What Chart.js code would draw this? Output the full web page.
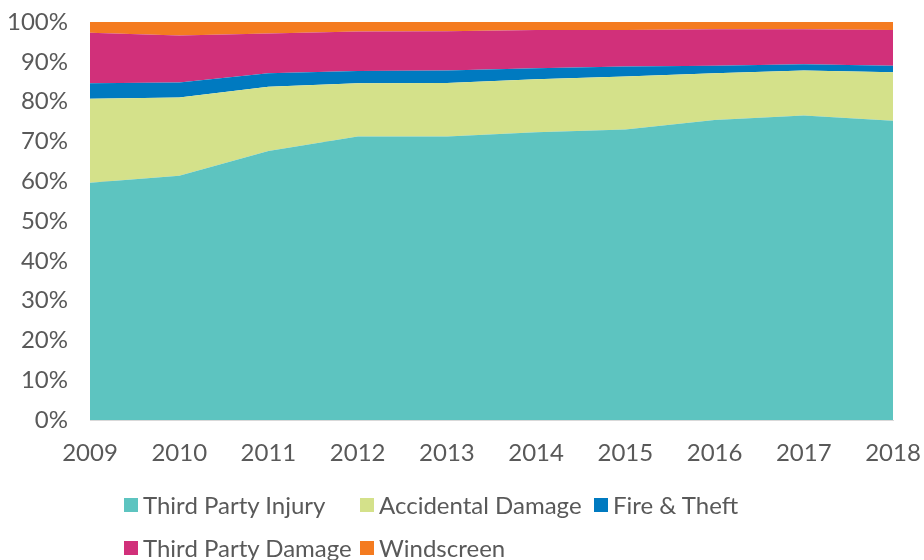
<!DOCTYPE html>
<html>
<head>
<meta charset="utf-8">
<script src="https://cdn.jsdelivr.net/npm/chart.js@4.4.1/dist/chart.umd.min.js"></script>
<style>
  body { margin: 0; background: #fff; font-family: Lato, sans-serif; }
  #wrap { position: relative; width: 924px; height: 560px; overflow: hidden; }
  #legend {
    position: absolute; left: 124px; top: 492px;
    display: grid; grid-template-columns: 236px 234px auto;
    row-gap: 17px; color: #595959; font-size: 24px; line-height: 26px;
  }
  #legend .item { display: flex; align-items: center; white-space: nowrap; }
  #legend i { display: inline-block; width: 14px; height: 14px; margin-right: 5px; }
</style>
</head>
<body>
<div id="wrap">
  <canvas id="myChart" width="924" height="560"></canvas>
  <div id="legend"></div>
</div>
<script>
// data (% share per year)
const years = ['2009','2010','2011','2012','2013','2014','2015','2016','2017','2018'];
const thirdPartyInjury = [59.6, 61.4, 67.6, 71.2, 71.2, 72.3, 73.0, 75.4, 76.5, 75.2];
const accidentalDamage = [21.1, 19.6, 16.1, 13.4, 13.5, 13.3, 13.3, 11.7, 11.3, 12.2];
const fireTheft        = [3.9, 3.8, 3.4, 3.1, 3.1, 2.8, 2.5, 1.9, 1.6, 1.6];
const thirdPartyDamage = [12.7, 11.8, 10.0, 9.9, 9.9, 9.6, 9.2, 9.2, 8.8, 9.0];
const windscreen       = [2.7, 3.4, 2.9, 2.4, 2.3, 2.0, 2.0, 1.8, 1.8, 2.0];
const seriesNames = ['Third Party Injury','Accidental Damage','Fire & Theft','Third Party Damage','Windscreen'];
const yTicks = [0,10,20,30,40,50,60,70,80,90,100];

const colors = ['#5dc4c0','#d4e18a','#007ac0','#d1307a','#f47b20'];
const allData = [thirdPartyInjury, accidentalDamage, fireTheft, thirdPartyDamage, windscreen];

const datasets = allData.map((d, i) => ({
    label: seriesNames[i],
    data: d,
    backgroundColor: colors[i],
    borderColor: colors[i],
    borderWidth: 0,
    pointRadius: 0,
    fill: i == 0 ? 'origin' : '-1',
    tension: 0
}));

var ctx = document.getElementById('myChart');
var myChart = new Chart(ctx, {
    type: 'line',
    data: { labels: years, datasets: datasets },
    options: {
        responsive: false,
        animation: false,
        layout: { padding: { top: 22, right: 31, bottom: 90, left: 0 } },
        plugins: { legend: { display: false }, tooltip: { enabled: false } },
        scales: {
            x: {
                offset: false,
                grid: { display: false, drawTicks: false },
                border: { display: true, color: '#d9d9d9' },
                ticks: { color: '#595959', font: { family: 'Lato', size: 24 }, padding: 19, maxRotation: 0 },
                afterFit: (s) => { s.height = 50; s.paddingLeft = 0; s.paddingRight = 0; }
            },
            y: {
                stacked: true,
                min: 0, max: 100,
                afterBuildTicks: (s) => { s.ticks = yTicks.map(v => ({ value: v })); },
                grid: { color: '#d9d9d9', drawTicks: false },
                border: { display: false },
                ticks: { color: '#595959', font: { family: 'Lato', size: 24 }, padding: 22,
                         callback: (v) => v + '%' },
                afterFit: (s) => { s.width = 90; s.paddingTop = 0; s.paddingBottom = 0; }
            }
        }
    }
});

// legend laid out like the original (left-aligned grid)
const legend = document.getElementById('legend');
seriesNames.forEach((name, i) => {
    const item = document.createElement('div');
    item.className = 'item';
    item.innerHTML = '<i style="background:' + colors[i] + '"></i>' + name.replace('&', '&amp;');
    legend.appendChild(item);
});
</script>
</body>
</html>
